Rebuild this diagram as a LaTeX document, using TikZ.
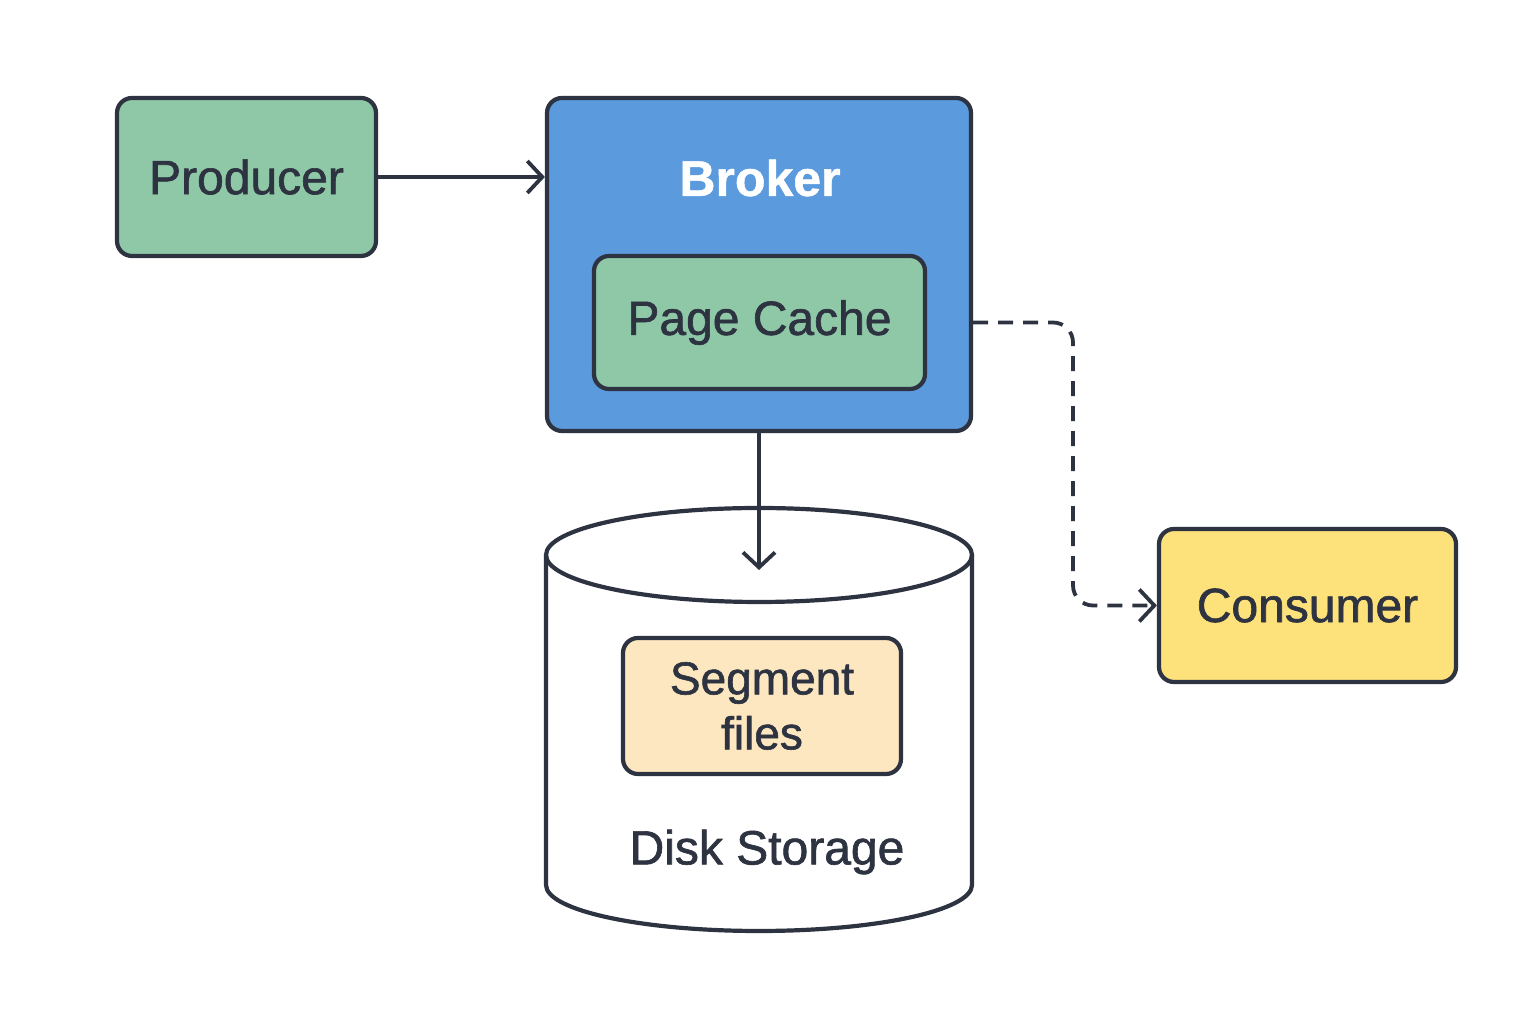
\documentclass[tikz,border=0pt]{standalone}
\usepackage{fontspec}
\setmainfont{Liberation Sans}[FakeBold=1.3]
\newfontfamily\brokerfont{Liberation Sans}[FakeBold=1.0]
\usetikzlibrary{arrows.meta}
\definecolor{outl}{HTML}{2D3340}
\definecolor{greenf}{HTML}{8FC8A7}
\definecolor{bluef}{HTML}{5A9ADD}
\definecolor{yellowf}{HTML}{FDE17A}
\definecolor{peachf}{HTML}{FDE7C0}
\tikzset{
  box/.style={draw=outl, line width=4.2pt, rounded corners=15pt, align=center,
    text=outl, font=\fontsize{48}{55}\selectfont},
  conn/.style={draw=outl, line width=3.8pt, -{Straight Barb[length=15pt,width=32pt]}},
  dashconn/.style={conn, dash pattern=on 15pt off 10pt, rounded corners=20pt},
}
\begin{document}
\begin{tikzpicture}[x=1pt,y=1pt]
\useasboundingbox (0,0) rectangle (1536,1024);
% nodes
\node[box, fill=greenf, minimum width=259pt, minimum height=158pt] (prod) at (246.5,847) {Producer};
\node[box, fill=bluef, minimum width=424pt, minimum height=333pt] (broker) at (759,759.5) {};
\node[font=\brokerfont\bfseries\fontsize{50}{60}\selectfont, text=white] (brokerlbl) at (760,846) {Broker};
\node[box, fill=greenf, minimum width=331pt, minimum height=133pt] (pc) at (759.5,701.5) {Page Cache};
% cylinder
\path[draw=outl, line width=4.2pt, fill=white]
  (546,469) -- (546,139) arc[start angle=180, end angle=360, x radius=213, y radius=46]
  -- (972,469);
\path[draw=outl, line width=4.2pt] (759,469) ellipse[x radius=213, y radius=47];
\coordinate (disktop) at (759,454);
\node[box, fill=peachf, minimum width=278pt, minimum height=136pt, font=\fontsize{46}{55}\selectfont] (seg) at (762,318) {Segment\\files};
\node[text=outl, font=\fontsize{48}{55}\selectfont] (disklbl) at (767,172) {Disk Storage};
\node[box, fill=yellowf, minimum width=297pt, minimum height=153pt] (cons) at (1307.5,418.5) {Consumer};
% connectors
\coordinate (dx) at (1073,0);
\draw[conn] (prod.east) -- (broker.west |- prod.east);
\draw[conn] (broker.south -| disktop) -- (disktop);
\draw[dashconn] (broker.east |- pc.east) -| (dx |- cons.west) -- (cons.west);
\end{tikzpicture}
\end{document}
